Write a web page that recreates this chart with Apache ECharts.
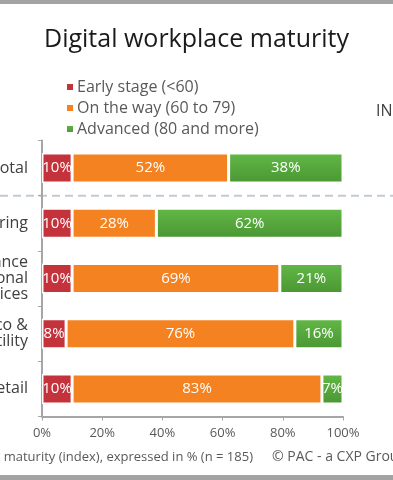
<!DOCTYPE html>
<html><head><meta charset="utf-8">
<script src="https://cdn.jsdelivr.net/npm/echarts@6/dist/echarts.min.js"></script>
<style>html,body{margin:0;padding:0;background:#fff}#c{width:393px;height:480px}</style>
</head><body><div id="c"></div>
<script>
const categories = ['Total', 'Manufacturing', 'Finance\nProfessional\nServices', 'Telco &\nUtility', 'Retail'];
const earlyStage = [10, 10, 10, 8, 10];
const onTheWay = [52, 28, 69, 76, 83];
const advanced = [38, 62, 21, 16, 7];
const seriesNames = ['Early stage (<60)', 'On the way (60 to 79)', 'Advanced (80 and more)'];
const xTicks = [0, 20, 40, 60, 80, 100];

const FONT = 'Open Sans';
const chart = echarts.init(document.getElementById('c'), null, {renderer: 'canvas'});
const green = new echarts.graphic.LinearGradient(0, 0, 0, 1, [
  {offset: 0, color: '#62b845'}, {offset: 1, color: '#4a9634'}]);
const colors = ['#c4323c', '#f58220', green];
const values = [earlyStage, onTheWay, advanced];

chart.setOption({
  animation: false,
  title: {text: 'Digital workplace maturity', left: 'center', top: 22,
    textStyle: {fontFamily: FONT, fontWeight: 'normal', fontSize: 25, color: '#1a1a1a'}},
  legend: {orient: 'vertical', left: 60, top: 74, itemWidth: 8, itemHeight: 8, itemGap: 5,
    icon: 'rect', data: seriesNames,
    textStyle: {fontFamily: FONT, fontSize: 16, color: '#595959', padding: [0, 0, 0, -2]}},
  grid: {left: 42, right: 50, top: 140.5, bottom: 63.5, containLabel: false, outerBoundsMode: 'none'},
  xAxis: {type: 'value', min: 0, max: 100, interval: 20,
    axisLine: {show: true, lineStyle: {color: '#a6a6a6', width: 2}},
    axisTick: {show: true, length: 4, lineStyle: {color: '#a6a6a6'}},
    splitLine: {show: false},
    axisLabel: {fontFamily: FONT, fontSize: 13, color: '#595959', margin: 10,
      formatter: v => xTicks.includes(v) ? v + '%' : ''}},
  yAxis: {type: 'category', data: categories, inverse: true,
    axisLine: {show: true, lineStyle: {color: '#a6a6a6', width: 2}},
    axisTick: {show: true, length: 4, lineStyle: {color: '#a6a6a6'}},
    axisLabel: {fontFamily: FONT, fontSize: 16, lineHeight: 16, color: '#404040', margin: 14}},
  series: values.map((d, i) => ({
    name: seriesNames[i], type: 'bar', stack: 'all', data: d, barWidth: 30,
    itemStyle: {color: colors[i], borderColor: '#fff', borderWidth: 1.5},
    label: {show: true, position: 'inside', formatter: '{c}%', color: '#fff',
      fontFamily: FONT, fontSize: 15}
  }))
});

const y0 = chart.convertToPixel({yAxisIndex: 0}, categories[0]);
const y1 = chart.convertToPixel({yAxisIndex: 0}, categories[1]);
const sepY = (y0 + y1) / 2;
chart.setOption({graphic: [
  {type: 'rect', shape: {x: 0, y: 0, width: 393, height: 4}, style: {fill: '#a3a3a3'}},
  {type: 'rect', shape: {x: 0, y: 475, width: 393, height: 5}, style: {fill: '#a3a3a3'}},
  {type: 'line', shape: {x1: 0, y1: sepY, x2: 393, y2: sepY},
    style: {stroke: '#c3c9d2', lineWidth: 2, lineDash: [8, 5]}},
  {type: 'text', left: 376, top: 103, style: {text: 'INDEX', fontFamily: FONT, fontSize: 16, fill: '#404040'}},
  {type: 'text', right: 140, top: 451, style: {text: 'Digital workplace maturity (index), expressed in % (n = 185)',
    fontFamily: FONT, fontSize: 13, fill: '#595959', align: 'right'}},
  {type: 'text', left: 272, top: 450, style: {text: '\u00A9 PAC - a CXP Group',
    fontFamily: FONT, fontSize: 14, fill: '#595959'}}
]});
</script></body></html>
